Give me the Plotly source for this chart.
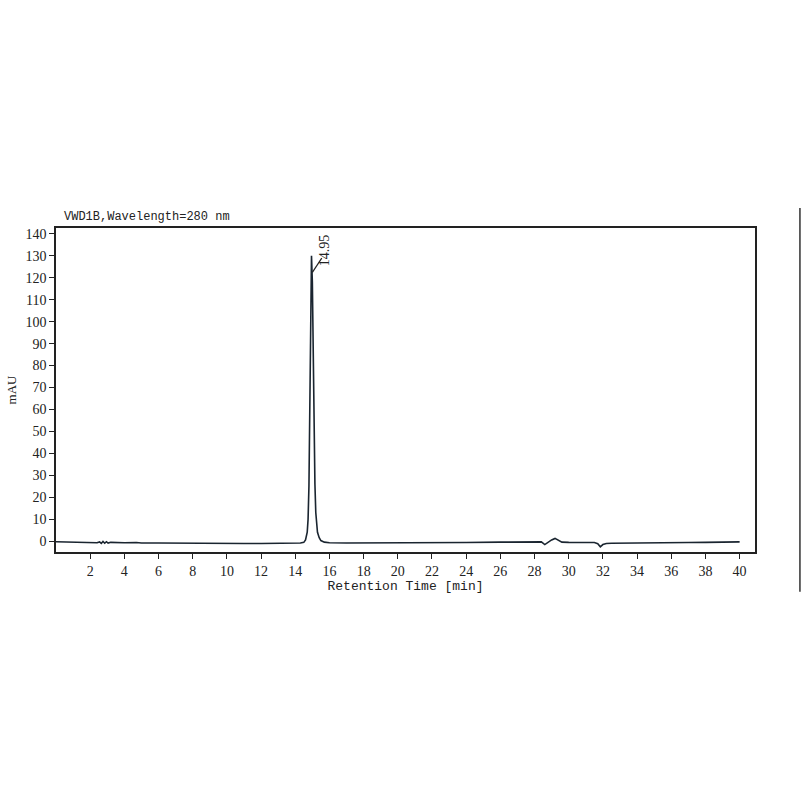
import plotly.graph_objects as go

title_text = "VWD1B,Wavelength=280 nm"
x_title = "Retention Time [min]"
y_title = "mAU"
peak_label = "14.95"
peak_time = 14.95
peak_height = 130.0

time_min = [0.0, 0.5, 1.0, 1.5, 2.0, 2.4, 2.55, 2.65, 2.75, 2.85, 2.95, 3.05, 3.2, 3.5, 4.0, 4.7, 5.0, 6.0, 7.0,
            8.0, 9.0, 10.0, 11.0, 12.0, 13.0, 13.8, 14.3, 14.5, 14.6, 14.7, 14.75, 14.8, 14.85, 14.9, 14.95,
            15.0, 15.05, 15.1, 15.15, 15.2, 15.25, 15.3, 15.4, 15.5, 15.7, 16.0, 17.0, 18.0, 19.0, 20.0,
            22.0, 24.0, 26.0, 27.0, 28.0, 28.4, 28.6, 28.8, 29.0, 29.2, 29.4, 29.6, 30.0, 30.5, 31.0, 31.5,
            31.7, 31.85, 32.0, 32.2, 32.5, 33.0, 34.0, 35.0, 36.0, 37.0, 38.0, 39.0, 40.0]
signal_mau = [-0.3, -0.4, -0.5, -0.6, -0.7, -0.8, -0.4, -1.1, -0.2, -1.0, -0.3, -0.9, -0.6, -0.8, -0.8, -0.7, -0.9, -0.9, -1.0,
              -1.0, -1.0, -1.1, -1.1, -1.1, -1.1, -1.0, -0.9, -0.6, 0.5, 4.0, 10.0, 25.0, 60.0, 105.0, 130.0,
              118.0, 85.0, 50.0, 26.0, 13.0, 7.0, 4.0, 1.5, 0.2, -0.5, -0.8, -0.9, -0.9, -0.9, -0.9,
              -0.8, -0.7, -0.5, -0.4, -0.3, -0.4, -1.6, -0.5, 0.5, 1.2, 0.2, -0.5, -0.6, -0.6, -0.7, -0.7,
              -1.2, -2.6, -1.6, -1.1, -1.0, -1.0, -0.9, -0.9, -0.8, -0.7, -0.6, -0.5, -0.4]

fig = go.Figure()
fig.add_trace(go.Scatter(x=time_min, y=signal_mau, mode="lines",
                         line=dict(color="#1a2530", width=1.6), showlegend=False, hoverinfo="skip"))

tick_font = dict(family="Liberation Serif", size=14, color="#222")

fig.update_xaxes(range=[0, 40.9], tickmode="array", tickvals=list(range(2, 41, 2)),
                 ticks="outside", ticklen=5, tickwidth=1.3, tickcolor="#222", automargin=False,
                 showline=True, linecolor="#222", linewidth=1.6, mirror=True,
                 showgrid=False, zeroline=False, tickfont=tick_font,
                 title=dict(text=x_title, font=dict(family="Liberation Mono", size=13, color="#222"), standoff=0))
fig.update_yaxes(range=[-5, 142.7], tickmode="array", tickvals=list(range(0, 141, 10)),
                 ticks="outside", ticklen=5, tickwidth=1.3, tickcolor="#222", automargin=False,
                 showline=True, linecolor="#222", linewidth=1.6, mirror=True,
                 showgrid=False, zeroline=False, tickfont=tick_font,
                 title=dict(text=y_title, font=dict(family="Liberation Serif", size=13, color="#222"), standoff=6))

fig.add_annotation(x=peak_time + 0.2, y=124.5, text=peak_label, textangle=-90, showarrow=False,
                   xanchor="left", yanchor="bottom",
                   font=dict(family="Liberation Serif", size=14, color="#222"))
fig.add_shape(type="line", xref="x", yref="y", x0=peak_time + 0.05, y0=peak_height - 7.5,
              x1=peak_time + 0.6, y1=peak_height - 1, line=dict(color="#222", width=1.2))

fig.add_annotation(xref="paper", yref="paper", x=0.008, y=1.0, yshift=2, text=title_text, showarrow=False,
                   xanchor="left", yanchor="bottom",
                   font=dict(family="Liberation Mono", size=12, color="#222"))

fig.add_shape(type="line", xref="paper", yref="paper", x0=1.0643, x1=1.0643, y0=-0.123, y1=1.062,
              line=dict(color="#111", width=1.3))

fig.update_layout(width=802, height=802, margin=dict(l=56, r=47, t=228, b=250),
                  plot_bgcolor="white", paper_bgcolor="white")

fig.write_html("out.html", config={"displayModeBar": False},
               post_script="document.body.style.margin='0';document.body.style.overflow='hidden';")
